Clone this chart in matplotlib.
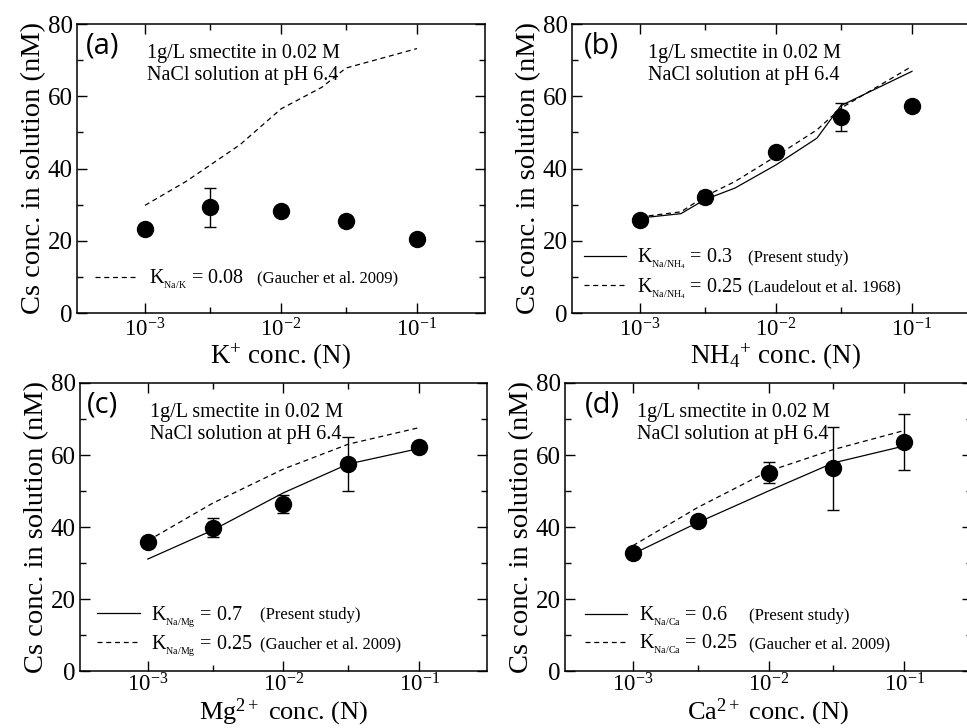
import numpy as np
import matplotlib
matplotlib.use("Agg")
import matplotlib.pyplot as plt
from matplotlib.ticker import FixedLocator, NullFormatter

plt.rcParams["font.family"] = "Liberation Serif"
plt.rcParams["mathtext.fontset"] = "custom"
plt.rcParams["mathtext.rm"] = "Liberation Serif"
plt.rcParams["mathtext.it"] = "Liberation Serif:italic"
plt.rcParams["mathtext.bf"] = "Liberation Serif:bold"
plt.rcParams["axes.unicode_minus"] = False

# measured points (same concentrations in every panel)
conc_exp = [1e-3, 3e-3, 1e-2, 3e-2, 1e-1]
cs_a = [23.2, 29.3, 28.1, 25.4, 20.6]
err_a = [1.0, 5.4, 1.0, 0.8, 1.0]
cs_b = [25.8, 32.1, 44.6, 54.2, 57.4]
err_b = [1.0, 1.6, 1.0, 3.9, 1.2]
cs_c = [35.9, 39.8, 46.4, 57.5, 62.1]
err_c = [1.2, 2.6, 2.4, 7.6, 0.8]
cs_d = [32.7, 41.7, 55.1, 56.3, 63.6]
err_d = [1.0, 1.0, 3.0, 11.5, 7.8]

# model curves
conc_fine = [1e-3, 2e-3, 3e-3, 5e-3, 1e-2, 2e-2, 3e-2, 1e-1]
gaucher_a = [29.8, 36.4, 40.9, 46.6, 56.5, 62.5, 67.8, 73.2]
present_b = [26.3, 27.5, 31.4, 34.6, 41.0, 48.4, 57.4, 66.9]
laudelout_b = [26.6, 28.0, 32.3, 36.4, 43.4, 50.7, 56.7, 68.3]
present_c = [31.1, 39.1, 49.5, 57.5, 61.8]
gaucher_c = [36.2, 46.6, 56.1, 63.0, 67.6]
present_d = [32.5, 41.2, 50.0, 57.8, 62.5]
gaucher_d = [34.8, 45.4, 55.5, 61.5, 66.8]

xlabels = ["K$^{+}$ conc. (N)", "NH$_4$$^{+}$ conc. (N)",
           "Mg$^{2+}$ conc. (N)", "Ca$^{2+}$ conc. (N)"]
panel_tags = ["(a)", "(b)", "(c)", "(d)"]
header = "1g/L smectite in 0.02 M\nNaCl solution at pH 6.4"


def klabel(sub, value):
    # tiny, well-lowered subscript like the original
    return r"K$_{{}_{\mathrm{%s}}}$ = %s" % (sub, value)


fig = plt.figure(figsize=(9.67, 7.28), dpi=100)
W, H = 967, 728
# axes boxes in pixels: left, top, right, bottom
boxes = [(77, 24, 485, 313), (572, 24, 980, 313),
         (80, 383, 487, 671), (565, 383, 972, 671)]
axs = []
for (l, t, r, b) in boxes:
    axs.append(fig.add_axes([l / W, 1 - b / H, (r - l) / W, (b - t) / H]))


def style(ax, xlabel, xpad, tpad, xsize):
    ax.set_xscale("log")
    ax.set_xlim(10 ** -3.5, 10 ** -0.5)
    ax.set_ylim(0, 80)
    ax.xaxis.set_major_locator(FixedLocator([1e-3, 1e-2, 1e-1]))
    ax.xaxis.set_minor_locator(FixedLocator([3e-3, 3e-2]))
    ax.xaxis.set_minor_formatter(NullFormatter())
    ax.set_yticks([0, 20, 40, 60, 80])
    ax.set_yticks([10, 30, 50, 70], minor=True)
    ax.tick_params(which="both", direction="in", top=True, right=True,
                   width=1.0)
    ax.tick_params(axis="y", labelsize=18, pad=3)
    ax.tick_params(axis="x", labelsize=16.5, pad=tpad)
    ax.tick_params(which="major", length=7.5)
    ax.tick_params(which="minor", length=4)
    for s in ax.spines.values():
        s.set_linewidth(1.1)
    ax.set_ylabel("Cs conc. in solution (nM)", fontsize=20.5, labelpad=1)
    ax.set_xlabel(xlabel, fontsize=xsize, labelpad=xpad)


pt_kw = dict(fmt="o", color="black", markersize=11.5, capsize=4.5,
             elinewidth=1.0, capthick=1.0, zorder=3)
dash = (4, 3)

# (a)
ax = axs[0]
style(ax, xlabels[0], 0, 4, 19.5)
ax.plot(conc_fine, gaucher_a, "k--", lw=0.9, dashes=dash,
        label=klabel("Na/K", "0.08"))
ax.errorbar(conc_exp, cs_a, yerr=err_a, **pt_kw)

# (b)
ax = axs[1]
style(ax, xlabels[1], 0, 4, 19.5)
ax.plot(conc_fine, present_b, "k-", lw=0.9,
        label=klabel("Na/NH_4", "0.3"))
ax.plot(conc_fine, laudelout_b, "k--", lw=0.9, dashes=dash,
        label=klabel("Na/NH_4", "0.25"))
ax.errorbar(conc_exp, cs_b, yerr=err_b, **pt_kw)

# (c)
ax = axs[2]
style(ax, xlabels[2], 0, 2, 19)
ax.plot(conc_exp, present_c, "k-", lw=0.9,
        label=klabel("Na/Mg", "0.7"))
ax.plot(conc_exp, gaucher_c, "k--", lw=0.9, dashes=dash,
        label=klabel("Na/Mg", "0.25"))
ax.errorbar(conc_exp, cs_c, yerr=err_c, **pt_kw)

# (d)
ax = axs[3]
style(ax, xlabels[3], 0, 2, 19)
ax.plot(conc_exp, present_d, "k-", lw=0.9,
        label=klabel("Na/Ca", "0.6"))
ax.plot(conc_exp, gaucher_d, "k--", lw=0.9, dashes=dash,
        label=klabel("Na/Ca", "0.25"))
ax.errorbar(conc_exp, cs_d, yerr=err_d, **pt_kw)

# headers, tags, legends
tag_x = [0.022, 0.03, 0.018, 0.048]
head_x = [0.172, 0.186, 0.172, 0.177]
leg_x = [0.01, -0.005, 0.008, 0.015]
leg_y = [0.117, 0.136, 0.138, 0.14]
notes = [["(Gaucher et al. 2009)"],
         ["(Present study)", "(Laudelout et al. 1968)"],
         ["(Present study)", "(Gaucher et al. 2009)"],
         ["(Present study)", "(Gaucher et al. 2009)"]]
note_x = [0.441, 0.432, 0.442, 0.452]

legends = []
for i, ax in enumerate(axs):
    ax.text(tag_x[i], 0.975, panel_tags[i], transform=ax.transAxes,
            fontsize=21, family="Open Sans", va="top", ha="left")
    ax.text(head_x[i], 0.93, header, transform=ax.transAxes,
            fontsize=14.5, va="top", ha="left", linespacing=1.2)
    legends.append(ax.legend(loc="center left",
                             bbox_to_anchor=(leg_x[i], leg_y[i]),
                             frameon=False, fontsize=14.5, handlelength=2.1,
                             handletextpad=0.55, labelspacing=0.25,
                             borderpad=0.2))

# put the reference notes on the same rows as the legend entries
fig.canvas.draw()
renderer = fig.canvas.get_renderer()
for i, ax in enumerate(axs):
    inv = ax.transAxes.inverted()
    for txt, ln in zip(notes[i], legends[i].get_lines()):
        bb = ln.get_window_extent(renderer)
        y = inv.transform((0, 0.5 * (bb.y0 + bb.y1) - 2))[1]
        ax.text(note_x[i], y, txt, fontsize=12, va="center", ha="left",
                transform=ax.transAxes)

fig.savefig("out.png", dpi=100)
